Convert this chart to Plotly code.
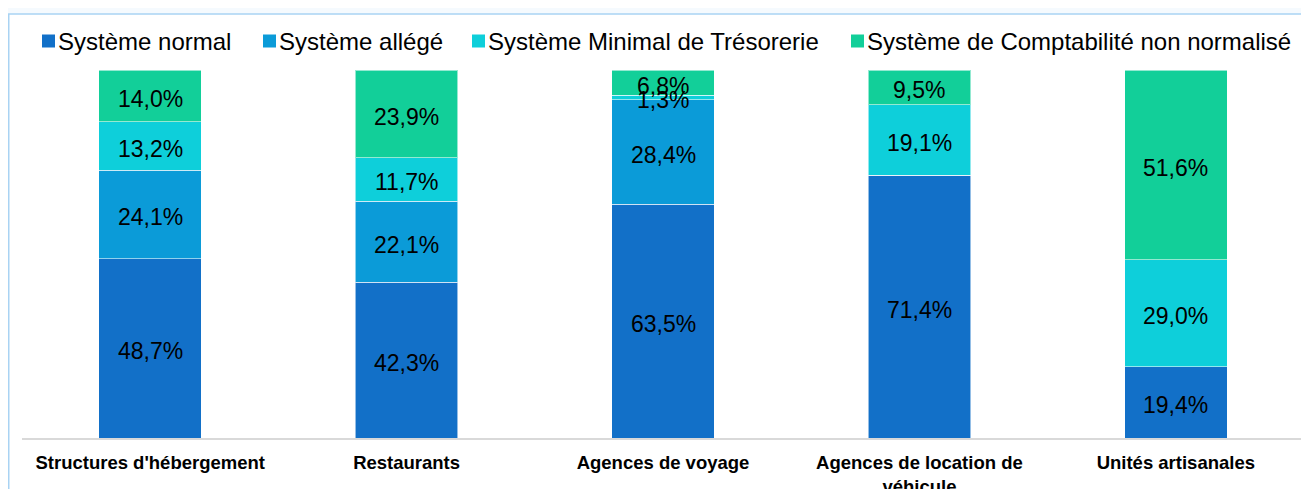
import plotly.graph_objects as go

# donnees
categories = ["Structures d'hébergement", "Restaurants", "Agences de voyage",
              "Agences de location de véhicule", "Unités artisanales"]
tick_labels = ["Structures d'hébergement", "Restaurants", "Agences de voyage",
               "Agences de location de<br>véhicule", "Unités artisanales"]

series_names = ["Système normal", "Système allégé",
                "Système Minimal de Trésorerie", "Système de Comptabilité non normalisé"]
systeme_normal = [48.7, 42.3, 63.5, 71.4, 19.4]
systeme_allege = [24.1, 22.1, 28.4, 0.0, 0.0]
systeme_minimal = [13.2, 11.7, 1.3, 19.1, 29.0]
systeme_non_normalise = [14.0, 23.9, 6.8, 9.5, 51.6]

colors = ["#1270C8", "#0B9BD8", "#0ECFDA", "#12CF99"]

# la page html ajoute 8px de marge au body -> figure decalee
OFF = 8
W, H = 1309 - OFF, 489 - OFF
ML, MR, MT, MB = 14, 5, 62, 51
PW, PH = W - ML - MR, H - MT - MB


def px_x(p):
    return (p - OFF - ML) / PW


def px_y(p):
    return (H - MB - (p - OFF)) / PH


def fmt(v):
    return f"{v:.1f}".replace(".", ",") + "%"


all_series = [systeme_normal, systeme_allege, systeme_minimal, systeme_non_normalise]

fig = go.Figure()
for name, vals, col in zip(series_names, all_series, colors):
    fig.add_trace(go.Bar(
        x=categories, y=vals, name=name,
        marker=dict(color=col, line=dict(color="rgba(255,255,255,0.55)", width=1)),
        showlegend=False, hoverinfo="name+y",
    ))

# etiquettes au centre de chaque segment (au dessus des barres)
base = [0.0] * len(categories)
for vals in all_series:
    for i, v in enumerate(vals):
        if v > 0:
            fig.add_annotation(x=categories[i], y=base[i] + v / 2, text=fmt(v),
                               showarrow=False, yshift=-3,
                               font=dict(family="Liberation Sans, Arial", size=23, color="black"))
        base[i] += v

# cadre autour du graphique
fig.add_shape(type="rect", xref="paper", yref="paper",
              x0=px_x(8.75), x1=px_x(1340), y0=px_y(14), y1=px_y(530),
              line=dict(color="#A9D3F3", width=1.5), fillcolor="white", layer="below")

# legende manuelle
text_starts = [59, 280, 489, 868]
for name, col, tx in zip(series_names, colors, text_starts):
    fig.add_shape(type="rect", xref="paper", yref="paper",
                  x0=px_x(tx - 17), x1=px_x(tx - 4), y0=px_y(47.5), y1=px_y(34.5),
                  line=dict(width=0), fillcolor=col)
    fig.add_annotation(xref="paper", yref="paper", x=px_x(tx - 3), y=px_y(41),
                       xanchor="left", yanchor="middle", showarrow=False,
                       text=name, font=dict(family="Liberation Sans, Arial", size=24, color="black"))

fig.update_layout(
    width=W, height=H, barmode="stack", bargap=0.6,
    margin=dict(l=ML, r=MR, t=MT, b=MB),
    paper_bgcolor="#F5FAFE", plot_bgcolor="white",
)
fig.update_xaxes(tickvals=categories, ticktext=["<b>" + t + "</b>" for t in tick_labels],
                 tickfont=dict(family="Liberation Sans, Arial", size=18.5, color="black"),
                 showline=True, linecolor="#D9D9D9", linewidth=1.5, ticks="", showgrid=False,
                 automargin=False, ticklabelstandoff=7)
fig.update_yaxes(range=[0, 100], visible=False)

fig.write_html("out.html")
